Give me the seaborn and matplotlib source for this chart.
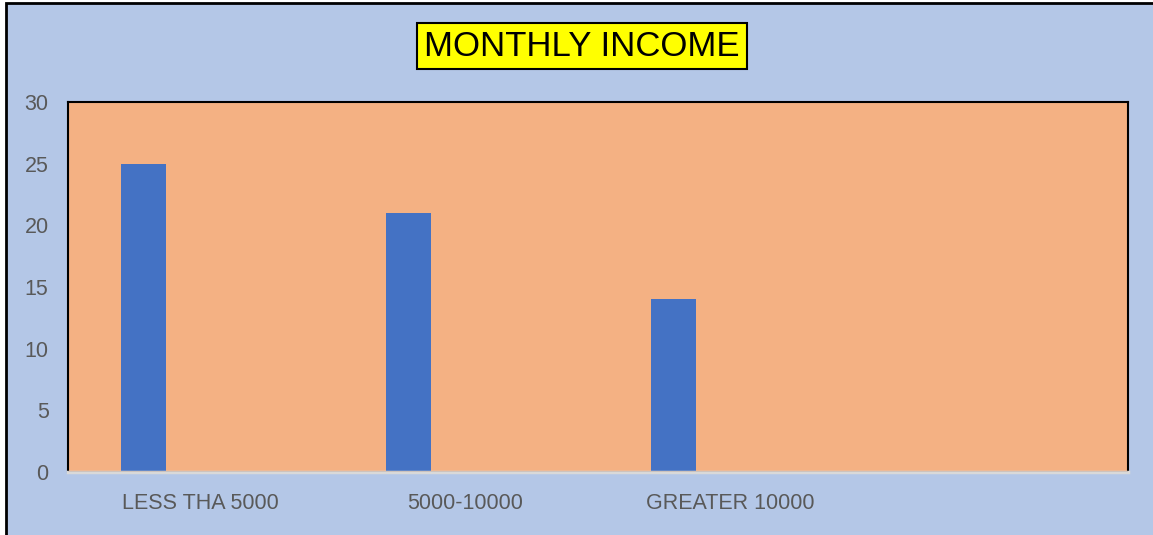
import matplotlib
matplotlib.use("Agg")
import numpy as np
import pandas as pd
import seaborn as sns
from matplotlib import pyplot as plt
from matplotlib.patches import Rectangle

# values
categories = ["LESS THA 5000", "5000-10000", "GREATER 10000", ""]
counts = [25, 21, 14, np.nan]
# the original Excel chart reserves room for extra (empty) series per category
series = ["Count", "Series2", "Series3"]
y_ticks = [0, 5, 10, 15, 20, 25, 30]

df = pd.DataFrame({"income": categories, "count": counts, "series": series[0]})

sns.set_style("white")
plt.rcParams["font.family"] = ["Liberation Sans Narrow", "Liberation Sans", "DejaVu Sans"]

fig = plt.figure(figsize=(11.53, 5.35), dpi=100)
fig.patch.set_facecolor("white")
# chart area with black frame (cropped on right/bottom like the screenshot)
fig.patches.append(Rectangle((6 / 1153, -0.01), 1.01, (532 / 535) + 0.01,
                             transform=fig.transFigure, facecolor="#B4C7E7",
                             edgecolor="black", linewidth=2, zorder=-5))

ax = fig.add_axes([68 / 1153, 63 / 535, 1060 / 1153, 370 / 535])
ax.set_zorder(1)
ax.set_facecolor("#F4B183")

sns.barplot(df, x="income", y="count", hue="series", order=categories,
            hue_order=series, palette=["#4472C4"] * 3, saturation=1,
            width=0.645, gap=0.21, dodge=True,
            linewidth=0, legend=False, ax=ax)

ax.set_xlim(-0.5, 3.5)
ax.set_ylim(0, 30)
ax.set_yticks(y_ticks)
ax.set_xlabel("")
ax.set_ylabel("")
ax.tick_params(axis="both", length=0, labelsize=15.5, labelcolor="#595959")
ax.tick_params(axis="y", pad=14)
ax.tick_params(axis="x", pad=15)

for side in ["top", "left", "right"]:
    ax.spines[side].set_color("black")
    ax.spines[side].set_linewidth(1.5)
ax.spines["bottom"].set_color("#D9D9D9")
ax.spines["bottom"].set_linewidth(2.5)
ax.axhline(0, color="#9C6B4E", linewidth=1, zorder=5)

fig.text(582 / 1153, 1 - 46 / 535, "MONTHLY INCOME", ha="center", va="center",
         fontsize=25, color="black", zorder=3,
         bbox=dict(boxstyle="square,pad=0.2", facecolor="#FFFF00",
                   edgecolor="black", linewidth=1.5))

fig.savefig("out.png", dpi=100, facecolor=fig.get_facecolor())
